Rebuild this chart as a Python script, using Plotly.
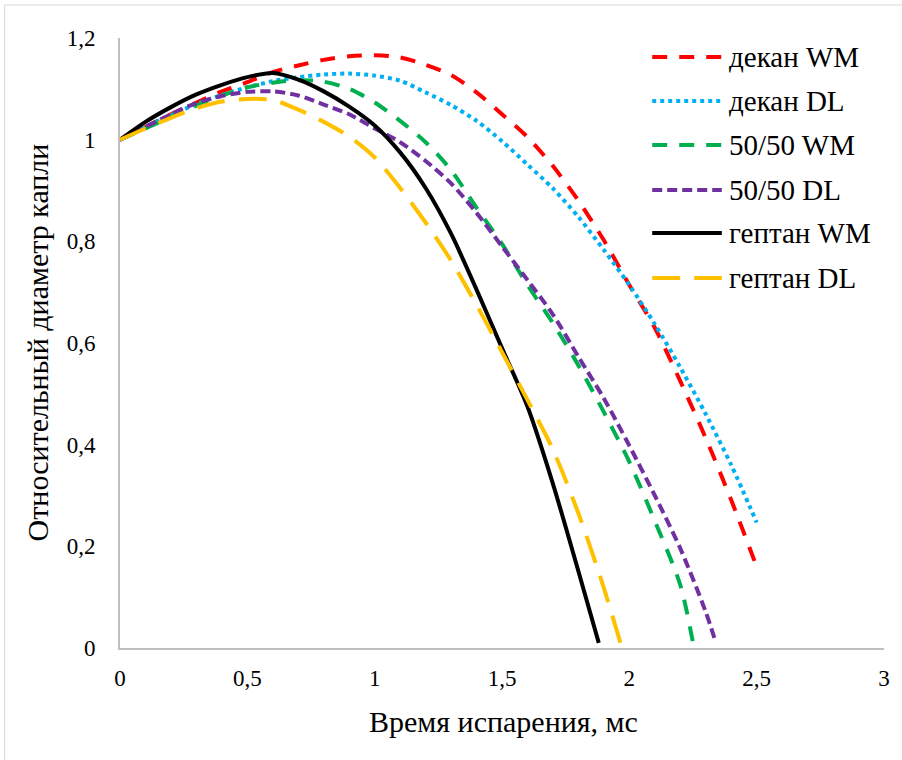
import plotly.graph_objects as go

# Относительный диаметр капли d/d0 во времени, мс
t_dekan_wm = [0, 0.1, 0.2, 0.3, 0.4, 0.5, 0.6, 0.7, 0.8, 0.9, 1.0, 1.1, 1.2, 1.3,
              1.4, 1.5, 1.6, 1.7, 1.8, 1.9, 2.0, 2.1, 2.2, 2.3, 2.4, 2.5]
d_dekan_wm = [1.0, 1.025, 1.05, 1.073, 1.095, 1.113, 1.133, 1.146, 1.157, 1.164, 1.166,
              1.162, 1.147, 1.127, 1.093, 1.05, 1.005, 0.948, 0.88, 0.802, 0.714, 0.63,
              0.525, 0.413, 0.291, 0.16]

t_dekan_dl = [0, 0.1, 0.2, 0.3, 0.4, 0.5, 0.6, 0.7, 0.8, 0.9, 1.0, 1.1, 1.2, 1.3,
              1.4, 1.5, 1.6, 1.7, 1.8, 1.9, 2.0, 2.1, 2.2, 2.3, 2.4, 2.5]
d_dekan_dl = [1.0, 1.025, 1.048, 1.07, 1.088, 1.103, 1.115, 1.123, 1.128, 1.13, 1.126,
              1.116, 1.093, 1.068, 1.037, 0.997, 0.951, 0.904, 0.848, 0.783, 0.714, 0.637,
              0.552, 0.46, 0.36, 0.247]

t_mix_wm = [0, 0.1, 0.2, 0.3, 0.4, 0.5, 0.6, 0.7, 0.8, 0.9, 1.0, 1.1, 1.2, 1.3,
            1.4, 1.5, 1.6, 1.7, 1.8, 1.9, 2.0, 2.1, 2.2, 2.25]
d_mix_wm = [1.0, 1.022, 1.045, 1.067, 1.087, 1.103, 1.112, 1.117, 1.114, 1.1, 1.073,
            1.037, 0.995, 0.94, 0.866, 0.795, 0.714, 0.639, 0.556, 0.464, 0.366, 0.25,
            0.124, 0.01]

t_mix_dl = [0, 0.1, 0.2, 0.3, 0.4, 0.5, 0.6, 0.7, 0.8, 0.9, 1.0, 1.1, 1.2, 1.3,
            1.4, 1.5, 1.6, 1.7, 1.8, 1.9, 2.0, 2.1, 2.2, 2.3, 2.34]
d_mix_dl = [1.0, 1.025, 1.05, 1.072, 1.086, 1.094, 1.095, 1.087, 1.069, 1.05, 1.022,
            0.995, 0.958, 0.914, 0.856, 0.79, 0.724, 0.656, 0.573, 0.491, 0.398, 0.30,
            0.196, 0.071, 0.01]

t_geptan_wm = [0, 0.1, 0.2, 0.3, 0.4, 0.5, 0.6, 0.7, 0.8, 0.9, 1.0, 1.1, 1.2, 1.3,
               1.4, 1.5, 1.6, 1.7, 1.8, 1.88]
d_geptan_wm = [1.0, 1.035, 1.064, 1.089, 1.108, 1.123, 1.131, 1.118, 1.095, 1.065, 1.028,
               0.975, 0.905, 0.815, 0.705, 0.59, 0.475, 0.323, 0.151, 0.01]

t_geptan_dl = [0, 0.1, 0.2, 0.3, 0.4, 0.5, 0.6, 0.7, 0.8, 0.9, 1.0, 1.1, 1.2, 1.3,
               1.4, 1.5, 1.6, 1.7, 1.8, 1.9, 1.965]
d_geptan_dl = [1.0, 1.022, 1.043, 1.062, 1.075, 1.08, 1.078, 1.059, 1.035, 1.006, 0.965,
               0.905, 0.837, 0.762, 0.675, 0.582, 0.488, 0.39, 0.265, 0.118, 0.01]

series_names = ["декан WM", "декан DL", "50/50 WM", "50/50 DL", "гептан WM", "гептан DL"]
series_colors = ["#FF0000", "#00B0F0", "#00B050", "#7030A0", "#000000", "#FFC000"]
series_dash = ["15px,12px", "4px,4px", "15px,12px", "10px,5px", "solid", "28px,14px"]

x_tick_vals = [0, 0.5, 1, 1.5, 2, 2.5, 3]
x_tick_text = ["0", "0,5", "1", "1,5", "2", "2,5", "3"]
y_tick_vals = [0, 0.2, 0.4, 0.6, 0.8, 1.0, 1.2]
y_tick_text = ["0", "0,2", "0,4", "0,6", "0,8", "1", "1,2"]

x_title = "Время испарения, мс"
y_title = "Относительный диаметр капли"

FONT = "Times New Roman, Liberation Serif, DejaVu Serif, serif"
W, H = 902, 760
ML, MR, MT, MB = 120, 14, 38, 112
PW, PH = W - ML - MR, H - MT - MB
LINE_W = 4


def px_to_paper(px, py):
    return (px - ML) / PW, (H - MB - py) / PH


xs = [t_dekan_wm, t_dekan_dl, t_mix_wm, t_mix_dl, t_geptan_wm, t_geptan_dl]
ys = [d_dekan_wm, d_dekan_dl, d_mix_wm, d_mix_dl, d_geptan_wm, d_geptan_dl]

fig = go.Figure()
for name, x, y, c, dash in zip(series_names, xs, ys, series_colors, series_dash):
    fig.add_trace(go.Scatter(
        x=x, y=y, name=name, mode="lines",
        line=dict(color=c, width=LINE_W, dash=dash, shape="spline", smoothing=0.8),
        showlegend=False,
    ))

shapes = []
annotations = []

# legend block: sample line + label
leg_rows = [57, 101, 145, 190, 233, 278]
for name, c, dash, py in zip(series_names, series_colors, series_dash, leg_rows):
    x0, yy = px_to_paper(655, py)
    x1, _ = px_to_paper(725, py)
    shapes.append(dict(type="line", xref="paper", yref="paper",
                       x0=x0, x1=x1, y0=yy, y1=yy,
                       line=dict(color=c, width=LINE_W, dash=dash)))
    tx, _ = px_to_paper(730, py)
    annotations.append(dict(xref="paper", yref="paper", x=tx, y=yy,
                            text=name, showarrow=False, xanchor="left", yanchor="middle",
                            font=dict(family=FONT, size=29, color="#000000")))

# axis titles
ax, ay = px_to_paper(506, 721)
annotations.append(dict(xref="paper", yref="paper", x=ax, y=ay, text=x_title,
                        showarrow=False, xanchor="center", yanchor="middle",
                        font=dict(family=FONT, size=30, color="#000000")))
bx, by = px_to_paper(37, 342)
annotations.append(dict(xref="paper", yref="paper", x=bx, y=by, text=y_title,
                        showarrow=False, xanchor="center", yanchor="middle", textangle=-90,
                        font=dict(family=FONT, size=30, color="#000000")))

# chart frame (left and top edges)
fx0, fy1 = px_to_paper(4, 5)
fx1, fy0 = px_to_paper(910, 770)
shapes.append(dict(type="rect", xref="paper", yref="paper", x0=fx0, x1=fx1, y0=fy0, y1=fy1,
                   line=dict(color="#D9D9D9", width=1), layer="below"))

fig.update_layout(
    width=W, height=H,
    margin=dict(l=ML, r=MR, t=MT, b=MB),
    paper_bgcolor="white", plot_bgcolor="white",
    separators=", ",
    font=dict(family=FONT, size=23, color="#000000"),
    shapes=shapes, annotations=annotations,
    showlegend=False,
)
fig.update_xaxes(range=[0, 3], tickvals=x_tick_vals, ticktext=x_tick_text,
                 showgrid=False, zeroline=False, showline=True, linecolor="#BFBFBF",
                 linewidth=2, ticks="", ticklabelstandoff=8,
                 tickfont=dict(family=FONT, size=23, color="#000000"))
fig.update_yaxes(range=[0, 1.2], tickvals=y_tick_vals, ticktext=y_tick_text,
                 showgrid=False, zeroline=False, showline=True, linecolor="#BFBFBF",
                 linewidth=2, ticks="", ticklabelstandoff=18,
                 tickfont=dict(family=FONT, size=23, color="#000000"))

fig.write_html("out.html")
